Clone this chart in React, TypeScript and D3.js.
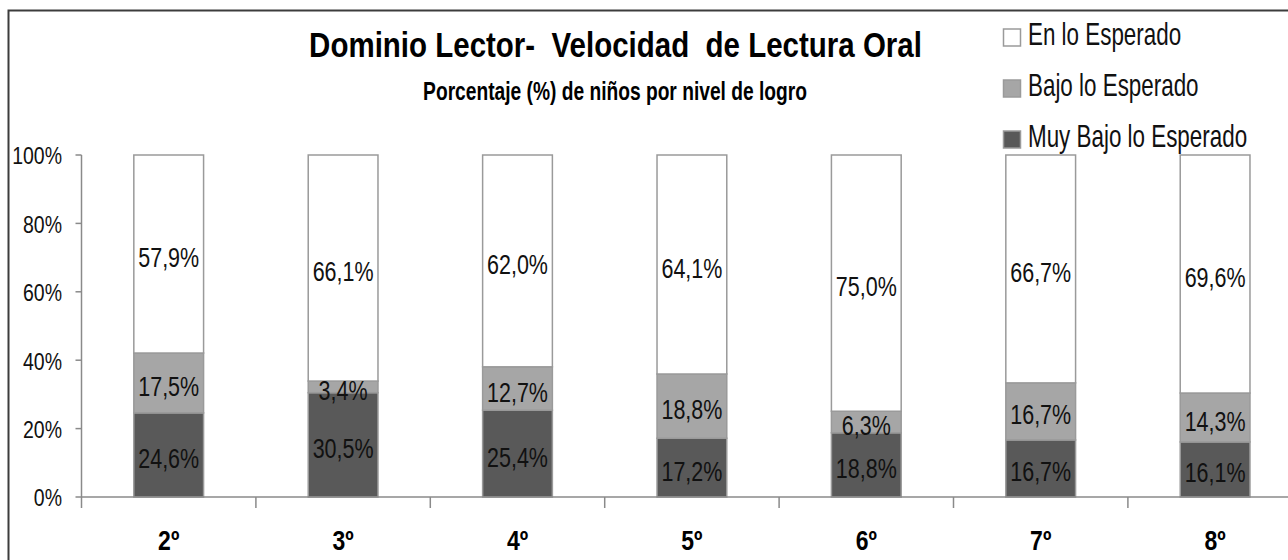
import React from "react";
import * as d3 from "d3";

const categories = ["2º", "3º", "4º", "5º", "6º", "7º", "8º"];
const muyBajo = [24.6, 30.5, 25.4, 17.2, 18.8, 16.7, 16.1];
const bajo = [17.5, 3.4, 12.7, 18.8, 6.3, 16.7, 14.3];
const enLo = [57.9, 66.1, 62.0, 64.1, 75.0, 66.7, 69.6];
const seriesNames = ["Muy Bajo lo Esperado", "Bajo lo Esperado", "En lo Esperado"];
const seriesColors = ["#595959", "#a6a6a6", "#ffffff"];
const yTicks = [0, 20, 40, 60, 80, 100];
const title = "Dominio Lector-\u00a0 Velocidad\u00a0 de Lectura Oral";
const subtitle = "Porcentaje (%) de niños por nivel de logro";

const FONT = "'Liberation Sans', Arial, sans-serif";

function T({ x, y, size, sy = 1.25, anchor = "start", weight = "normal", fill = "#111", children }: any) {
  return (
    <text
      transform={`translate(${x},${y}) scale(1,${sy})`}
      fontSize={size}
      fontFamily={FONT}
      fontWeight={weight}
      textAnchor={anchor}
      dy="0.358em"
      fill={fill}
    >
      {children}
    </text>
  );
}

export default function App() {
  const W = 1288, H = 560;
  const x0 = 81.5, step = 174.4;
  const x = d3.scaleBand<string>().domain(categories).range([x0, x0 + step * categories.length]).paddingInner(0.6).paddingOuter(0.3);
  const y = d3.scaleLinear().domain([0, 100]).range([497, 155]);

  const rows = categories.map((c, i) => ({ cat: c, m: muyBajo[i], b: bajo[i], e: enLo[i] }));
  const stack = d3.stack<any>().keys(["m", "b", "e"]).offset(d3.stackOffsetExpand);
  const stacked = stack(rows);
  const valuesByKey: any = { m: muyBajo, b: bajo, e: enLo };

  const axisColor = "#8a8a8a";
  const boundaries = categories.map((_, i) => x0 + i * x.step());

  return (
    <svg width={W} height={H} style={{ position: "absolute", left: 0, top: 0, background: "#fff" }}>
      <rect x={0} y={0} width={W} height={H} fill="#fff" />
      {/* chart frame */}
      <rect x={8.5} y={10.5} width={W + 20} height={H + 20} fill="none" stroke="#3c3c3c" strokeWidth={2} />

      {/* title */}
      <T x={615.5} y={44.5} size={29.5} sy={1.18} anchor="middle" weight="bold" fill="#000">{title}</T>
      <T x={615} y={91.5} size={19.2} sy={1.3} anchor="middle" weight="bold" fill="#000">{subtitle}</T>

      {/* bars */}
      {stacked.map((layer, li) => (
        <g key={li}>
          {layer.map((d: any, i: number) => {
            const cx = (x(categories[i]) as number) + x.bandwidth() / 2;
            const yTop = y(d[1] * 100);
            const yBot = y(d[0] * 100);
            return (
              <g key={i}>
                <rect
                  x={x(categories[i])}
                  y={yTop}
                  width={x.bandwidth()}
                  height={yBot - yTop}
                  fill={seriesColors[li]}
                  stroke="#9a9a9a"
                  strokeWidth={1.5}
                />
              </g>
            );
          })}
        </g>
      ))}
      {stacked.map((layer, li) => (
        <g key={"l" + li}>
          {layer.map((d: any, i: number) => {
            const cx = (x(categories[i]) as number) + x.bandwidth() / 2;
            const yc = (y(d[1] * 100) + y(d[0] * 100)) / 2 + 3;
            const v = valuesByKey[layer.key][i];
            return (
              <T key={i} x={cx} y={yc} size={21.5} sy={1.3} anchor="middle">
                {v.toFixed(1).replace(".", ",") + "%"}
              </T>
            );
          })}
        </g>
      ))}

      {/* y axis */}
      <line x1={x0} x2={x0} y1={y(100)} y2={y(0)} stroke={axisColor} strokeWidth={1.5} />
      {yTicks.map((t) => (
        <g key={t}>
          <line x1={x0 - 6} x2={x0} y1={y(t)} y2={y(t)} stroke={axisColor} strokeWidth={1.5} />
          <T x={62} y={y(t) + 1} size={19.5} sy={1.2} anchor="end">{t + "%"}</T>
        </g>
      ))}

      {/* x axis */}
      <line x1={x0} x2={W} y1={y(0)} y2={y(0)} stroke={axisColor} strokeWidth={1.5} />
      {boundaries.map((bx, i) => (
        <line key={i} x1={bx} x2={bx} y1={y(0)} y2={y(0) + 11} stroke={axisColor} strokeWidth={1.5} />
      ))}
      {categories.map((c) => (
        <T key={c} x={(x(c) as number) + x.bandwidth() / 2} y={540} size={23} sy={1.22} anchor="middle" weight="bold" fill="#000">
          {c}
        </T>
      ))}

      {/* legend */}
      {[2, 1, 0].map((si, k) => {
        const cy = [37.5, 88.5, 139.5][k];
        return (
          <g key={si}>
            <rect x={1003.5} y={cy - 8.5} width={17} height={17} fill={seriesColors[si]} stroke="#9a9a9a" strokeWidth={1.5} />
            <T x={1028} y={cy - 3} size={22.4} sy={1.37}>{seriesNames[si]}</T>
          </g>
        );
      })}
    </svg>
  );
}
